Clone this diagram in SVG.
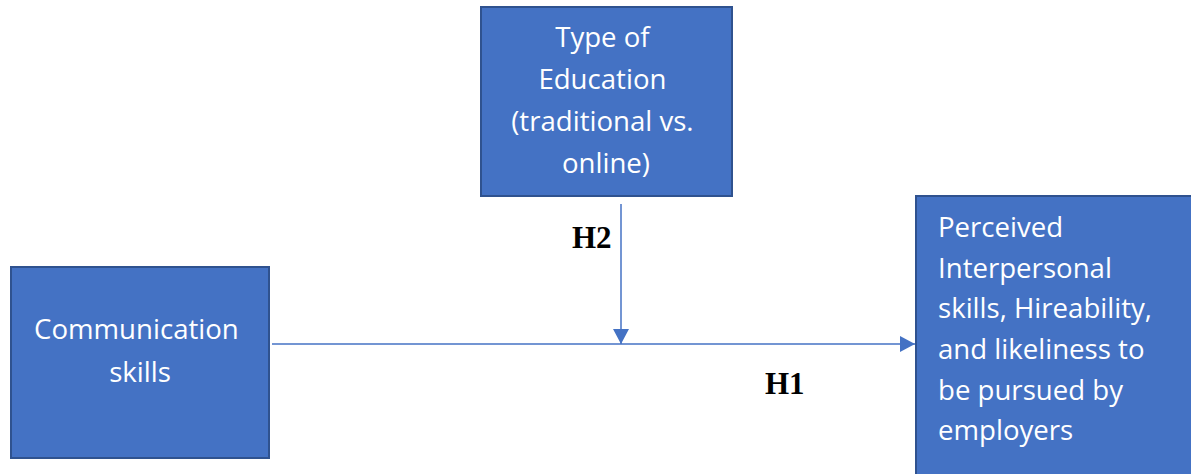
<svg xmlns="http://www.w3.org/2000/svg" width="1191" height="474" viewBox="0 0 1191 474">
  <style>
    .box { fill: #4472C4; stroke: #2F528F; stroke-width: 2; }
    .lbl { fill: #ffffff; font-family: "Open Sans", "Liberation Sans", sans-serif; font-size: 27.6px; }
    .hyp { fill: #000000; font-family: "Liberation Serif", serif; font-weight: bold; font-size: 31px; }
    .link { stroke: #4472C4; stroke-width: 1.5; fill: none; }
  </style>
  <defs>
    <marker id="arrowL" viewBox="0 0 15 16" refX="15" refY="8" markerWidth="15" markerHeight="16" markerUnits="userSpaceOnUse" orient="auto">
      <path d="M0,0 L15,8 L0,16 z" fill="#4472C4"/>
    </marker>
  </defs>

  <g id="connectors">
    <line class="link" x1="272" y1="344" x2="915" y2="344" marker-end="url(#arrowL)"/>
    <line class="link" x1="621" y1="204" x2="621" y2="344" marker-end="url(#arrowL)"/>
  </g>

  <g id="education">
    <rect class="box" x="481" y="7" width="251" height="189"/>
    <text class="lbl" text-anchor="middle">
      <tspan x="606" y="47">Type of</tspan>
      <tspan x="606" y="89">Education</tspan>
      <tspan x="606" y="131">(traditional vs.</tspan>
      <tspan x="606" y="173">online)</tspan>
    </text>
  </g>

  <g id="communication">
    <rect class="box" x="11" y="267" width="258" height="191"/>
    <text class="lbl" text-anchor="middle">
      <tspan x="140" y="339">Communication</tspan>
      <tspan x="140" y="382">skills</tspan>
    </text>
  </g>

  <g id="outcome">
    <rect class="box" x="916" y="196" width="280" height="283"/>
    <text class="lbl">
      <tspan x="938" y="237">Perceived</tspan>
      <tspan x="938" y="278">Interpersonal</tspan>
      <tspan x="938" y="318">skills, Hireability,</tspan>
      <tspan x="938" y="359">and likeliness to</tspan>
      <tspan x="938" y="400">be pursued by</tspan>
      <tspan x="938" y="440">employers</tspan>
    </text>
  </g>

  <g id="labels">
    <text class="hyp" x="572" y="248">H2</text>
    <text class="hyp" x="765" y="394">H1</text>
  </g>
</svg>
